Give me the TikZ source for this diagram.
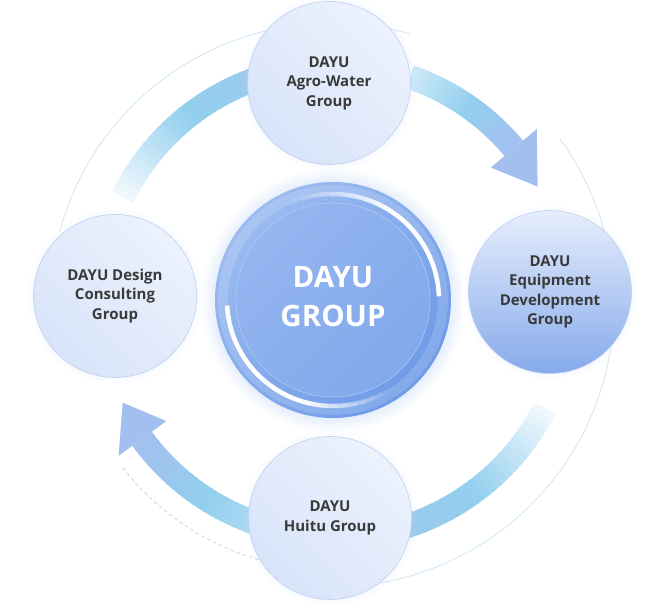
\documentclass[tikz,border=0pt]{standalone}
\usepackage{fontspec}
\setmainfont{Open Sans}
\usepackage{xcolor}
\usetikzlibrary{calc,shadows}

\definecolor{grouptext}{HTML}{3A3A3A}
\definecolor{groupline}{HTML}{BDD0F1}
\definecolor{grouplight}{HTML}{ECF2FD}
\definecolor{groupdark}{HTML}{D8E4F9}
\definecolor{equiplight}{HTML}{E6EEFC}
\definecolor{equipdark}{HTML}{86AAEB}
\definecolor{bandsky}{HTML}{93CFEE}
\definecolor{bandblue}{HTML}{A3BFF0}
\definecolor{bandtop}{HTML}{CBE9F7}
\definecolor{bandcyan}{HTML}{C0E4F5}
\definecolor{bandpale}{HTML}{F0F8FD}
\definecolor{bandend}{HTML}{9CC8EE}
\definecolor{ringline}{HTML}{CDE6F6}
\definecolor{ringdash}{HTML}{B3DAF3}
\definecolor{hubdark}{HTML}{6E9BE7}
\definecolor{hublight}{HTML}{9BBBF1}
\definecolor{hubinner}{HTML}{94B5EF}
\definecolor{hubinnerdark}{HTML}{82A9EC}
\definecolor{hubline}{HTML}{B5CCF4}
\definecolor{glowc}{HTML}{C8DAF7}

\tikzset{
  group/.style={circle, minimum size=163pt, inner sep=0pt, draw=groupline, line width=0.6pt,
    align=center, text=grouptext, font=\bfseries\fontsize{15}{19.5}\selectfont,
    top color=grouplight, bottom color=groupdark, shading angle=-45,
    circular glow={fill=glowc, opacity=0.3, shadow scale=1.08}},
  equip/.style={group, top color=equiplight, bottom color=equipdark},
  hub/.style={circle, minimum size=236pt, inner sep=0pt,
    top color=hublight, bottom color=hubdark, shading angle=45,
    circular glow={fill=glowc, opacity=0.6, shadow scale=1.12}},
  hubcore/.style={circle, minimum size=194pt, inner sep=0pt, draw=hubline, line width=0.5pt,
    top color=hubinner, bottom color=hubinnerdark, shading angle=45},
  hubtext/.style={align=center, text=white, font=\bfseries\fontsize{29.5}{39}\selectfont},
  ring/.style={ringline, line width=0.8pt},
}

% thick arc from #1 to #2 (degrees), colours #3 -> #4 -> #5, radius #6
\newcommand{\flowband}[6]{%
  \foreach \k in {0,...,29}{%
    \pgfmathsetmacro{\aa}{#1+(#2-#1)*\k/30}%
    \pgfmathsetmacro{\ab}{#1+(#2-#1)*min(\k+1.4,30)/30}%
    \ifnum\k<15 \pgfmathtruncatemacro{\pp}{100*\k/15}\colorlet{bandc}{#4!\pp!#3}%
    \else \pgfmathtruncatemacro{\pp}{100*(\k-15)/15}\colorlet{bandc}{#5!\pp!#4}\fi
    \draw[bandc, line width=24pt, shift={(cen.center)}] (\aa:#6) arc (\aa:\ab:#6);
  }}

\begin{document}
\begin{tikzpicture}[x=1pt,y=1pt]
    \useasboundingbox (0,0) rectangle (669,613);
    \coordinate (cen) at (333,313);
    \coordinate (orbit) at (332,308);

    \draw[ring, shift={(orbit)}] (36:282) arc (36:-80:282);
    \draw[ring, shift={(orbit)}] (74:282) arc (74:165:282);
    \draw[ring, draw=ringdash, dash pattern=on 3.5pt off 3pt, shift={(orbit)}] (218:265) arc (218:258:265);

    \flowband{71}{40}{bandtop}{bandsky}{bandblue}{236}
    \flowband{-27}{-78}{bandpale}{bandsky}{bandend}{238}
    \flowband{262}{216}{bandcyan}{bandsky}{bandblue}{236}
    \flowband{154}{104}{bandpale}{bandsky}{bandend}{234}
    \fill[bandblue, shift={(cen.center)}] (40:266) -- (29:234) -- (40:206) -- cycle;
    \fill[bandblue, shift={(cen.center)}] (216:265) -- (206:234) -- (216:206) -- cycle;

    \node[hub] (hubdisk) at (cen) {};
    \draw[white, opacity=0.15, line width=10pt] (cen) circle (110);
    \node[hubcore] (hubcore) at (cen) {};
    \foreach \a in {2,7,...,107}{
        \pgfmathsetmacro{\op}{min(1,(112-\a)/57)}
        \draw[white, line width=4.5pt, opacity=\op, shift={(cen.center)}] (\a:106) arc (\a:\a+5:106);
    }
    \foreach \a in {183,188,...,298}{
        \pgfmathsetmacro{\op}{min(1,(300-\a)/50)}
        \draw[white, line width=4.5pt, opacity=\op, shift={(cen.center)}] (\a:106) arc (\a:\a+5:106);
    }
    \node[hubtext] (hubname) at ($(cen)+(0,3)$) {DAYU\\GROUP};

    \node[group] (agro) at (329,530) {DAYU\\Agro-Water\\Group};
    \node[equip] (equipment) at (550,321) {DAYU\\Equipment\\Development\\Group};
    \node[group] (design) at (115,317) {DAYU Design\\Consulting\\Group};
    \node[group] (huitu) at (330,95) {DAYU\\Huitu Group};
\end{tikzpicture}
\end{document}
